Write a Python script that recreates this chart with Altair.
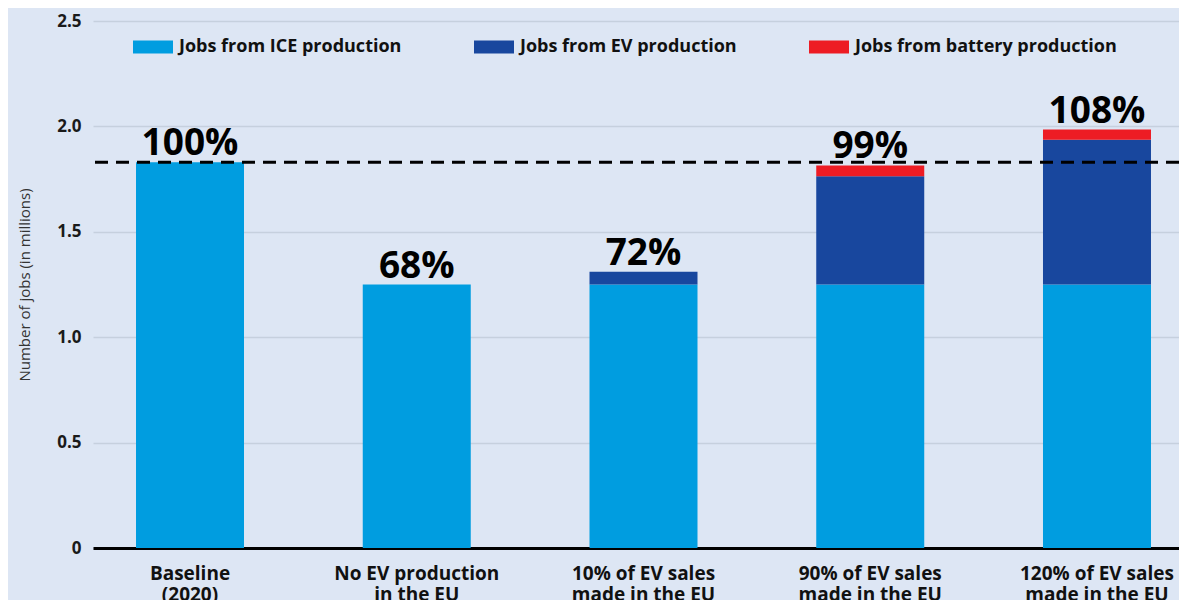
import altair as alt
import pandas as pd

categories = [
    "Baseline|(2020)",
    "No EV production|in the EU",
    "10% of EV sales|made in the EU",
    "90% of EV sales|made in the EU",
    "120% of EV sales|made in the EU",
]
ice_jobs = [1.83, 1.25, 1.25, 1.25, 1.25]
ev_jobs = [0.0, 0.0, 0.06, 0.513, 0.687]
battery_jobs = [0.0, 0.0, 0.0, 0.052, 0.048]
pct_labels = ["100%", "68%", "72%", "99%", "108%"]
baseline_level = [1.83]
series_names = ["Jobs from ICE production", "Jobs from EV production", "Jobs from battery production"]
series_colors = ["#009de0", "#18479e", "#ed1c24"]
y_ticks = [0, 0.5, 1.0, 1.5, 2.0, 2.5]

rows = []
for i, c in enumerate(categories):
    for j, vals in enumerate([ice_jobs, ev_jobs, battery_jobs]):
        rows.append({"cat": c, "series": series_names[j], "value": vals[i], "ord": j})
df = pd.DataFrame(rows)
totals = pd.DataFrame({
    "cat": categories,
    "total": [a + b + c for a, b, c in zip(ice_jobs, ev_jobs, battery_jobs)],
    "label": pct_labels,
})
ref = pd.DataFrame({"y": baseline_level})

FONT = "Open Sans"

x_enc = alt.X(
    "cat:N",
    sort=categories,
    title=None,
    scale=alt.Scale(paddingInner=0.5237, paddingOuter=0.1566, align=0.6056),
    axis=alt.Axis(
        labelExpr="split(datum.label, '|')",
        labelAngle=0,
        labelFont=FONT,
        labelFontSize=19,
        labelFontWeight="bold",
        labelColor="#111111",
        labelLineHeight=21,
        labelPadding=16,
        labelLimit=300,
        ticks=False,
        domainColor="#000000",
        domainWidth=3,
        grid=False,
    ),
)

y_scale = alt.Scale(domain=[0, 2.5], nice=False)

bars = alt.Chart(df).mark_bar().encode(
    x=x_enc,
    y=alt.Y(
        "value:Q",
        stack="zero",
        scale=y_scale,
        axis=alt.Axis(
            values=y_ticks,
            labelExpr="datum.value == 0 ? '0' : format(datum.value, '.1f')",
            title="Number of jobs (in millions)",
            titleFont=FONT,
            titleFontSize=15,
            titleFontWeight="normal",
            titleColor="#333333",
            titlePadding=24,
            labelFont=FONT,
            labelFontSize=17,
            labelFontWeight="bold",
            labelColor="#1a1a1a",
            labelPadding=12,
            grid=True,
            gridColor="#c6d0de",
            gridWidth=1.5,
            domain=False,
            ticks=False,
        ),
    ),
    color=alt.Color(
        "series:N",
        scale=alt.Scale(domain=series_names, range=series_colors),
        legend=alt.Legend(
            orient="none",
            legendX=40,
            legendY=6,
            direction="horizontal",
            title=None,
            symbolType="M-1,-0.33L1,-0.33L1,0.33L-1,0.33Z",
            symbolSize=1600,
            symbolStrokeWidth=0,
            symbolOpacity=1,
            labelFont=FONT,
            labelFontSize=18,
            labelFontWeight="bold",
            labelColor="#111111",
            labelOffset=6,
            labelLimit=500,
            columnPadding=72,
        ),
    ),
    order=alt.Order("ord:Q", sort="ascending"),
)

rule = alt.Chart(ref).mark_rule(color="black", strokeWidth=3, strokeDash=[13, 8]).encode(
    y=alt.Y("y:Q", scale=y_scale)
)

labels = alt.Chart(totals).mark_text(
    font=FONT, fontSize=37, fontWeight="bold", baseline="alphabetic", dy=-7, color="black"
).encode(
    x=alt.X("cat:N", sort=categories),
    y=alt.Y("total:Q", scale=y_scale),
    text="label:N",
)

chart = alt.layer(bars, rule, labels).properties(
    width=1086,
    height=527,
    padding={"left": 85, "top": 13, "right": 0, "bottom": 52},
    autosize=alt.AutoSizeParams(type="none"),
    background="#dde6f4",
).configure_view(stroke=None)

chart.save("out.html", embed_options={"renderer": "svg", "actions": False})
